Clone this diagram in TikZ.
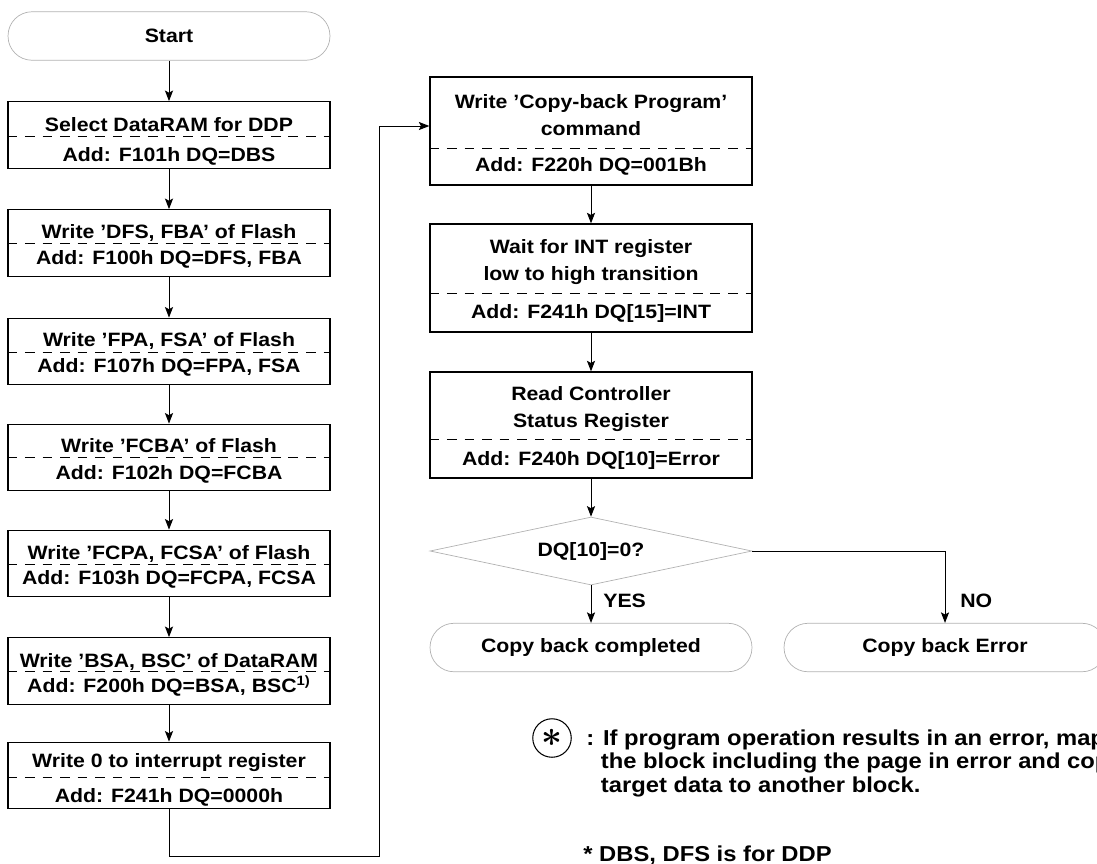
\documentclass[tikz,border=0pt]{standalone}
\usepackage{fontspec}
\usepackage{tikz}
\usetikzlibrary{arrows.meta, shapes.geometric, calc}
\newfontfamily\chartfont{Liberation Sans}[FakeStretch=1.1]

\begin{document}
\begin{tikzpicture}[
    x=0.02cm, y=-0.02cm,
    stepbox/.style={draw, line width=0.75pt, minimum width=6.44cm,
                    minimum height=#1, inner sep=0pt},
    stepbox/.default=1.33cm,
    term/.style={draw=gray!60, line width=0.4pt, rounded corners=0.48cm,
                 minimum width=6.44cm, minimum height=0.97cm, inner sep=0pt,
                 font=\chartfont\bfseries\fontsize{11}{13}\selectfont},
    decide/.style={diamond, draw=gray!60, line width=0.4pt, shape aspect=4.7,
                   minimum width=6.44cm, minimum height=1.36cm, inner sep=0pt,
                   font=\chartfont\bfseries\fontsize{11}{13}\selectfont},
    txt/.style={anchor=base, inner sep=0pt, align=center,
                font=\chartfont\bfseries\fontsize{11}{15.3}\selectfont},
    sep/.style={dash pattern=on 5.5pt off 4.5pt, line width=0.5pt},
    arr/.style={-{Stealth[length=6pt, width=4.6pt, inset=1.2pt]}, line width=0.55pt},
    note/.style={anchor=base west, inner sep=0pt, align=left,
                 font=\chartfont\bfseries\fontsize{12.3}{13.3}\selectfont},
    ring/.style={circle, draw, line width=0.6pt, minimum size=0.77cm,
                 inner sep=0pt, font=\fontsize{20}{20}\selectfont\boldmath}
]
\useasboundingbox (0,0) rectangle (1097,863);
\clip (0,0) rectangle (1097,863);

%% -- Left column --------------------------------------------------------
\node[term] (start) at (169,36) {Start};

\node[stepbox] (b1) at (169,135) {};
\node[stepbox] (b2) at (169,243) {};
\node[stepbox] (b3) at (169,351.5) {};
\node[stepbox] (b4) at (169,457.5) {};
\node[stepbox] (b5) at (169,563.5) {};
\node[stepbox] (b6) at (169,671) {};
\node[stepbox] (b7) at (169,775.5) {};

\draw[sep] ($(b1.north west)+(0,35)$) -- ($(b1.north east)+(0,35)$);
\draw[sep] ($(b2.north west)+(0,34)$) -- ($(b2.north east)+(0,34)$);
\draw[sep] ($(b3.north west)+(0,35)$) -- ($(b3.north east)+(0,35)$);
\draw[sep] ($(b4.north west)+(0,34)$) -- ($(b4.north east)+(0,34)$);
\draw[sep] ($(b5.north west)+(0,35)$) -- ($(b5.north east)+(0,35)$);
\draw[sep] ($(b6.north west)+(0,34)$) -- ($(b6.north east)+(0,34)$);
\draw[sep] ($(b7.north west)+(0,36)$) -- ($(b7.north east)+(0,36)$);

\node[txt] (b1a) at (169,131) {Select DataRAM for DDP};
\node[txt] (b1b) at (169,161) {Add: F101h DQ=DBS};
\node[txt] (b2a) at (169,238) {Write ’DFS, FBA’ of Flash};
\node[txt] (b2b) at (169,264) {Add: F100h DQ=DFS, FBA};
\node[txt] (b3a) at (169,346) {Write ’FPA, FSA’ of Flash};
\node[txt] (b3b) at (169,372) {Add: F107h DQ=FPA, FSA};
\node[txt] (b4a) at (169,452) {Write ’FCBA’ of Flash};
\node[txt] (b4b) at (169,479) {Add: F102h DQ=FCBA};
\node[txt] (b5a) at (169,559) {Write ’FCPA, FCSA’ of Flash};
\node[txt] (b5b) at (169,584) {Add: F103h DQ=FCPA, FCSA};
\node[txt] (b6a) at (169,667) {Write ’BSA, BSC’ of DataRAM};
\node[txt] (b6b) at (169,692) {Add: F200h DQ=BSA, BSC\textsuperscript{1)}};
\node[txt] (b7a) at (169,767) {Write 0 to interrupt register};
\node[txt] (b7b) at (169,802) {Add: F241h DQ=0000h};

%% -- Right column -------------------------------------------------------
\node[stepbox=2.16cm] (r1) at (591,131) {};
\node[stepbox=2.16cm] (r2) at (591,278) {};
\node[stepbox=2.12cm] (r3) at (591,425) {};

\draw[sep] ($(r1.north west)+(0,72)$) -- ($(r1.north east)+(0,72)$);
\draw[sep] ($(r2.north west)+(0,70)$) -- ($(r2.north east)+(0,70)$);
\draw[sep] ($(r3.north west)+(0,68)$) -- ($(r3.north east)+(0,68)$);

\node[txt] (r1a) at (591,135) {Write ’Copy-back Program’\\command};
\node[txt] (r1b) at (591,171) {Add: F220h DQ=001Bh};
\node[txt] (r2a) at (591,280) {Wait for INT register\\low to high transition};
\node[txt] (r2b) at (591,318) {Add: F241h DQ[15]=INT};
\node[txt] (r3a) at (591,427) {Read Controller\\Status Register};
\node[txt] (r3b) at (591,465) {Add: F240h DQ[10]=Error};

\node[decide] (dq) at (591,551) {DQ[10]=0?};
\node[term] (done) at (591,647.5) {Copy back completed};
\node[term] (fail) at (945,647.5) {Copy back Error};

\node[txt, anchor=base west] (yes) at (603,607) {YES};
\node[txt, anchor=base west] (no)  at (960,607) {NO};

%% -- Connectors ---------------------------------------------------------
\coordinate (loop) at (379,856);
\draw[arr] (start) -- (b1);
\draw[arr] (b1) -- (b2);
\draw[arr] (b2) -- (b3);
\draw[arr] (b3) -- (b4);
\draw[arr] (b4) -- (b5);
\draw[arr] (b5) -- (b6);
\draw[arr] (b6) -- (b7);
\draw[arr] (b7.south) |- (loop) |- ([yshift=0.1cm]r1.west);
\draw[arr] (r1) -- (r2);
\draw[arr] (r2) -- (r3);
\draw[arr] (r3) -- (dq);
\draw[arr] (dq) -- (done);
\draw[arr] (dq.east) -| (fail.north);

%% -- Notes --------------------------------------------------------------
\node[ring] (mark) at (552,738) {$\ast$};
\node[note] (n1) at (586,792)
      {: If program operation results in an error, map\\
       \hphantom{:~}the block including the page in error and copy\\
       \hphantom{:~}target data to another block.};
\node[note] (n2) at (583,861) {* DBS, DFS is for DDP};
\end{tikzpicture}
\end{document}
